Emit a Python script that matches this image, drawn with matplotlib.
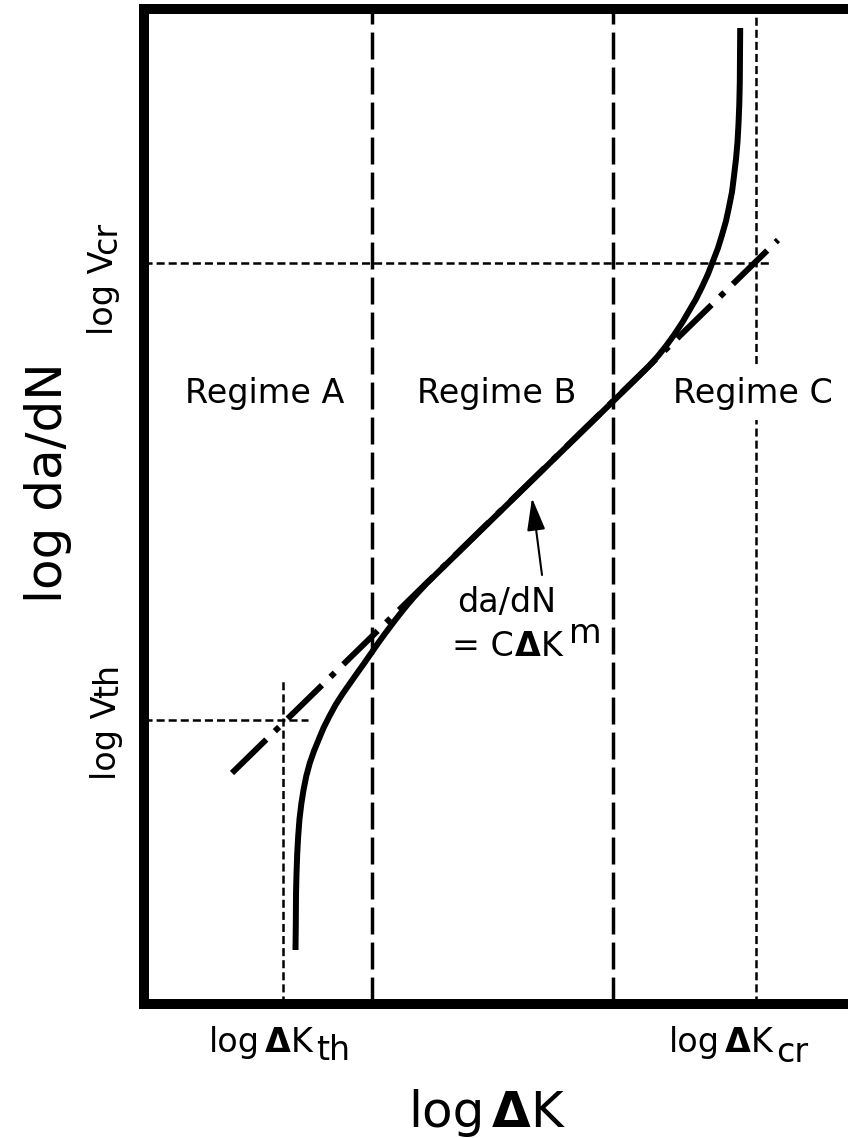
import matplotlib
matplotlib.use("Agg")
import matplotlib.pyplot as plt

plt.rcParams['font.family'] = ['DejaVu Sans']
plt.rcParams['lines.scale_dashes'] = False

# ---- data (x = log dK, y = log da/dN, arbitrary units) ----
curve_x = [151.5, 151.8, 152, 152.5, 153.2, 154.2, 155.5, 157.3, 159.5, 162.3,
           165.8, 170, 174.5, 179.5, 185, 191.5, 198.5, 205.5, 212.5, 220,
           228, 234, 240, 246, 252, 258, 264, 270, 276, 282,
           496, 505, 514, 522, 530, 538, 545, 552, 558, 564, 569, 574, 578,
           582, 585, 588, 590, 592, 593.5, 594.5, 595.3, 595.8, 596, 596.2]
curve_y = [54, 80, 110, 130, 150, 168, 185, 200, 214, 228,
           241, 253, 264, 276, 287, 299, 310, 320, 330, 340.5,
           352, 360.7, 369, 377, 385, 392.6, 400, 407, 413.5, 420,
           629, 638, 648, 658, 669, 681, 693, 705, 717, 730, 743, 756, 769,
           783, 797, 812, 828, 845, 862, 880, 900, 922, 950, 976]
paris_x = [88, 634]
paris_y = [231, 764]
regime_bounds = [228, 469]
dK_th, dK_cr = 139, 612
v_th, v_cr = 284, 741
th_vline_top = 323
th_hline_end = 164
cr_hline_end = 628
regime_names = ["Regime A", "Regime B", "Regime C"]
regime_x = [121, 353, 609]
regime_y = 601
xlim = (0, 704)
ylim = (0, 995)

W, H = 848, 1138
fig = plt.figure(figsize=(W / 100, H / 100), dpi=100)
ax = fig.add_axes([144 / W, (H - 1004) / H, 704 / W, 995 / H])
ax.set_xlim(*xlim)
ax.set_ylim(*ylim)
ax.set_xticks([])
ax.set_yticks([])
for s in ['left', 'bottom', 'top']:
    ax.spines[s].set_linewidth(7.2)
    ax.spines[s].set_color('black')
    ax.spines[s].set_capstyle('projecting')
ax.spines['right'].set_visible(False)

# regime boundaries
for xb in regime_bounds:
    ax.plot([xb, xb], [ylim[0], ylim[1]], color='black', lw=2.5,
            dashes=(19.4, 5.8), solid_capstyle='butt', zorder=2)

thin = dict(color='black', lw=1.8, dashes=(5.8, 2.9), zorder=2)
ax.plot([dK_th, dK_th], [ylim[0], th_vline_top], **thin)
ax.plot([xlim[0], th_hline_end], [v_th, v_th], **thin)
ax.plot([dK_cr, dK_cr], [ylim[0], ylim[1]], **thin)
ax.plot([xlim[0], cr_hline_end], [v_cr, v_cr], **thin)

# Paris law dash-dot
ax.plot(paris_x, paris_y, color='black', lw=4.3,
        dashes=(34.5, 8.6, 4.3, 8.6), dash_capstyle='butt', zorder=3)

# main curve
ax.plot(curve_x, curve_y, color='black', lw=4.3, solid_joinstyle='round',
        solid_capstyle='butt', zorder=4)

# regime labels
for name, rx in zip(regime_names, regime_x):
    kw = {}
    if name.endswith("C"):
        kw['bbox'] = dict(facecolor='white', edgecolor='none', pad=7)
    ax.text(rx, regime_y, name, fontsize=24, ha='center', va='baseline',
            zorder=5, **kw)


def compose(x, y, pieces, size, rotation=0):
    """pieces: (text, weight, gap_px, shift_px) - shift is toward the descent side"""
    prev = ax.text(x, y, pieces[0][0], fontsize=size, fontweight=pieces[0][1],
                   rotation=rotation, rotation_mode='anchor', ha='left',
                   va='baseline', clip_on=False, zorder=6)
    for txt, wt, gap, shift in pieces[1:]:
        if rotation == 0:
            prev = ax.annotate(txt, xy=(1, 0), xycoords=prev, xytext=(gap, -shift),
                               textcoords='offset pixels', ha='left', va='bottom',
                               fontsize=size, fontweight=wt, annotation_clip=False,
                               zorder=6)
        else:
            prev = ax.annotate(txt, xy=(1, 1), xycoords=prev, xytext=(shift, gap),
                               textcoords='offset pixels', ha='right', va='bottom',
                               fontsize=size, fontweight=wt, rotation=rotation,
                               annotation_clip=False, zorder=6)
    return prev


compose(65, -48, [("log", 'normal', 0, 0), ("Δ", 'bold', 5, 0),
                  ("K", 'normal', 0, 0), ("th", 'normal', 3, 8)], 24)
compose(525, -48, [("log", 'normal', 0, 0), ("Δ", 'bold', 5, 0),
                   ("K", 'normal', 0, 0), ("cr", 'normal', 3, 10)], 24)
compose(264, -123, [("log", 'normal', 0, 0), ("Δ", 'bold', 7, 0),
                    ("K", 'normal', 0, 0)], 36)
compose(-82, 401, [("log da/dN", 'normal', 0, 0)], 36, rotation=90)
compose(-31, 669, [("log V", 'normal', 0, 0), ("cr", 'normal', -3, 3)], 24, rotation=90)
compose(-28, 224, [("log V", 'normal', 0, 0), ("th", 'normal', -3, 2)], 24, rotation=90)

ax.text(313, 392, "da/dN", fontsize=24, ha='left', va='baseline', zorder=6)
compose(308, 348, [("= C", 'normal', 0, 0), ("Δ", 'bold', 1, 0),
                   ("K", 'normal', 0, 0), ("m", 'normal', 6, -13)], 24)

ax.annotate("", xy=(388, 506), xytext=(398, 429),
            arrowprops=dict(arrowstyle='-|>,head_length=1.0,head_width=0.28',
                            color='black', lw=1.5, mutation_scale=20,
                            shrinkA=0, shrinkB=0), zorder=6)

fig.savefig("out.png", dpi=100)
